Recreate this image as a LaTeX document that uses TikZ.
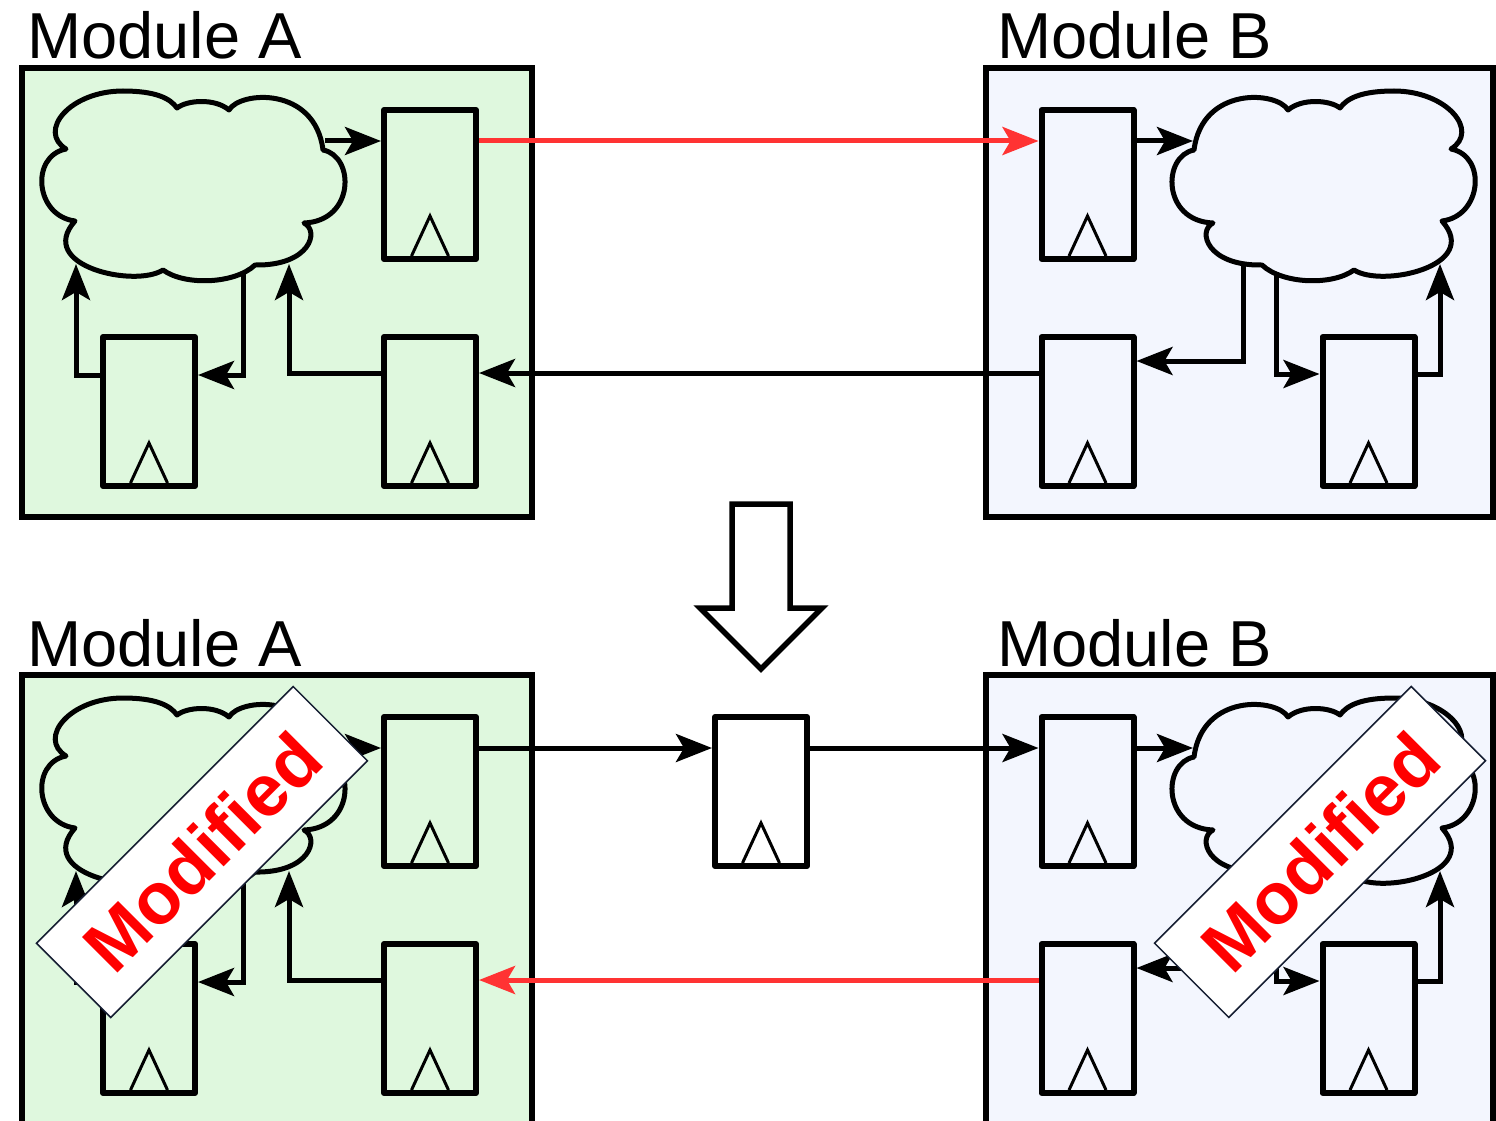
\documentclass[tikz,border=0pt]{standalone}
\usepackage{fontspec}
\setmainfont{Liberation Sans}
\usetikzlibrary{arrows.meta,calc}

\definecolor{fillA}{RGB}{223,248,222}
\definecolor{fillB}{RGB}{243,246,254}
\definecolor{hotwire}{RGB}{255,51,51}
\definecolor{stampred}{RGB}{255,0,0}
\definecolor{stampedge}{RGB}{22,30,50}

\tikzset{
  modbox/.style={draw=black, line width=5.5pt, line join=miter},
  reg/.style={draw=black, line width=6pt, line join=round,
    minimum width=92pt, minimum height=149pt, inner sep=0pt},
  clk/.style={draw=black, line width=3pt, line join=miter},
  wire/.style={draw=black, line width=5pt, line join=miter,
    -{Stealth[length=36pt,width=28pt,inset=8pt]}},
  hot/.style={wire, draw=hotwire},
  cloudline/.style={draw=black, line width=5pt, line join=round},
  modlabel/.style={anchor=base west, inner sep=0pt,
    font=\fontsize{65}{65}\selectfont},
  stamp/.style={draw=stampedge, line width=1.5pt, fill=white, rotate=45,
    minimum width=363pt, minimum height=105pt, inner sep=0pt,
    text=stampred, font=\fontsize{73}{73}\selectfont\bfseries},
  cloud/.pic={
    \draw[cloudline] (-129,-37)
      .. controls (-158,-55) and (-125,-95) .. (-72,-95)
      .. controls (-40,-95) and (-25,-88) .. (-18,-78)
      .. controls (-8,-86) and (20,-88) .. (34,-76)
      .. controls (45,-95) and (120,-100) .. (128,-36)
      .. controls (160,-30) and (160,35) .. (109,37)
      .. controls (125,45) and (115,80) .. (60,79)
      .. controls (40,98) and (-10,100) .. (-32,84)
      .. controls (-60,102) and (-160,80) .. (-120,35)
      .. controls (-160,30) and (-165,-30) .. (-129,-37) -- cycle;
  }
}

% Module A: box, title, logic cloud, three registers and local wiring
\newcommand\moduleA[2]{%
  \draw[modbox, fill=fillA] (22,68) rectangle (532,#2);
  \node[modlabel] (#1lbl) at (27,59) {Module A};
  \pic at (195,186) {cloud};
  \node[reg] (#1r1) at (430,184.5) {};
  \node[reg] (#1r2) at (149,411.5) {};
  \node[reg] (#1r3) at (430,411.5) {};
  \coordinate (#1co) at (325,141);
  \coordinate (#1cl) at (76,264);
  \coordinate (#1cd) at (243,272);
  \coordinate (#1cr) at (289,264);
  \draw[wire] (#1co) -- (#1co -| #1r1.west);
  \draw[wire] ([yshift=36.5pt]#1r2.west) -| (#1cl);
  \draw[wire] (#1cd) |- ([yshift=36.5pt]#1r2.east);
  \draw[wire] ([yshift=38.5pt]#1r3.west) -| (#1cr);
  \foreach \regname in {r1,r2,r3}
    \draw[clk] ([xshift=-18.5pt,yshift=6pt]#1\regname.south)
      -- ++(18.5,-40) -- ++(18.5,40);
}

% Module B: mirrored layout of the same parts
\newcommand\moduleB[2]{%
  \draw[modbox, fill=fillB] (986,68) rectangle (1493,#2);
  \node[modlabel] (#1lbl) at (997,59) {Module B};
  \pic[xscale=-1] at (1322,186) {cloud};
  \node[reg] (#1r1) at (1087.5,184.5) {};
  \node[reg] (#1r2) at (1087.5,411.5) {};
  \node[reg] (#1r3) at (1368.5,411.5) {};
  \coordinate (#1ci) at (1193,141);
  \coordinate (#1cd) at (1243,266);
  \coordinate (#1ce) at (1276,272);
  \coordinate (#1cr) at (1440,264);
  \draw[wire] ([yshift=43.5pt]#1r1.east) -- (#1ci);
  \draw[wire] (#1cd) |- ([yshift=50.5pt]#1r2.east);
  \draw[wire] (#1ce) |- ([yshift=37.5pt]#1r3.west);
  \draw[wire] ([yshift=37.5pt]#1r3.east) -| (#1cr);
  \foreach \regname in {r1,r2,r3}
    \draw[clk] ([xshift=-18.5pt,yshift=6pt]#1\regname.south)
      -- ++(18.5,-40) -- ++(18.5,40);
}

\begin{document}
\begin{tikzpicture}[x=1pt,y=-1pt]
  \useasboundingbox (0,0) rectangle (1496,1121);
  \clip (0,0) rectangle (1496,1121);

  % original design
  \moduleA{tA}{517}
  \moduleB{tB}{517}
  \draw[hot] ([yshift=43.5pt]tAr1.east) -- ([yshift=43.5pt]tBr1.west);
  \draw[wire] ([yshift=38.5pt]tBr2.west) -- ([yshift=38.5pt]tAr3.east);

  % transformation arrow
  \draw[line width=5.5pt, fill=white, line join=miter]
    (732,504) -- (790,504) -- (790,608) -- (822,608) -- (761,669)
    -- (700,608) -- (732,608) -- cycle;

  % pipelined design
  \begin{scope}[yshift=-607pt]
    \moduleA{bA}{530}
    \moduleB{bB}{530}
  \end{scope}
  \node[reg] (mid) at (761,791.5) {};
  \draw[clk] ([xshift=-18.5pt,yshift=6pt]mid.south) -- ++(18.5,-40) -- ++(18.5,40);
  \draw[wire] ([yshift=43.5pt]bAr1.east) -- ([yshift=43.5pt]mid.west);
  \draw[wire] ([yshift=43.5pt]mid.east) -- ([yshift=43.5pt]bBr1.west);
  \draw[hot] ([yshift=38.5pt]bBr2.west) -- ([yshift=38.5pt]bAr3.east);

  \node[stamp] (stampA) at (202,852) {Modified};
  \node[stamp] (stampB) at (1320,852) {Modified};
\end{tikzpicture}
\end{document}
